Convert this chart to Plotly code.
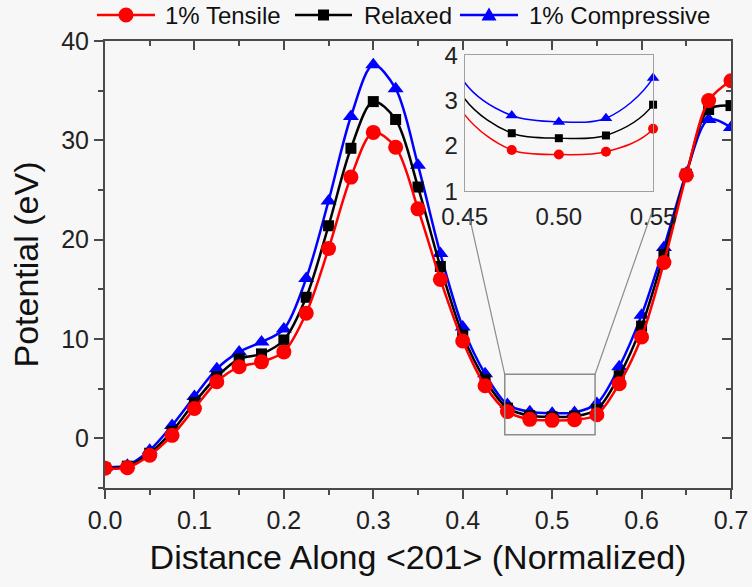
import plotly.graph_objects as go

# Position along <201>, normalized
distance = [0.0, 0.025, 0.05, 0.075, 0.1, 0.125, 0.15, 0.175, 0.2, 0.225,
            0.25, 0.275, 0.3, 0.325, 0.35, 0.375, 0.4, 0.425, 0.45, 0.475,
            0.5, 0.525, 0.55, 0.575, 0.6, 0.625, 0.65, 0.675, 0.7]

# Potential (eV) for each strain state
tensile = [-3.0, -2.95, -1.7, 0.3, 3.0, 5.7, 7.2, 7.7, 8.7, 12.6,
           19.1, 26.3, 30.8, 29.3, 23.1, 16.0, 9.8, 5.3, 2.69, 1.91,
           1.81, 1.87, 2.38, 5.5, 10.2, 17.7, 26.5, 34.0, 36.0]
relaxed = [-3.0, -2.8, -1.5, 0.7, 3.6, 6.2, 8.0, 8.5, 9.9, 14.2,
           21.4, 29.2, 33.9, 32.1, 25.3, 17.3, 10.4, 5.9, 3.04, 2.28,
           2.17, 2.23, 2.91, 6.3, 11.3, 18.5, 26.6, 33.1, 33.5]
compressive = [-2.9, -2.7, -1.2, 1.3, 4.2, 7.0, 8.7, 9.7, 11.0, 16.1,
               23.9, 32.4, 37.6, 35.2, 27.5, 18.6, 11.2, 6.5, 3.40, 2.67,
               2.53, 2.61, 3.50, 7.2, 12.4, 19.2, 26.7, 32.1, 31.3]

series_names = ["1% Tensile", "Relaxed", "1% Compressive"]
x_ticks = [0.0, 0.1, 0.2, 0.3, 0.4, 0.5, 0.6, 0.7]
y_ticks = [0, 10, 20, 30, 40]
inset_x_ticks = [0.45, 0.50, 0.55]
inset_y_ticks = [1, 2, 3, 4]

# zoomed window shown in the inset (main-axis data coordinates)
zoom_x = [0.447, 0.548]
zoom_y = [0.35, 6.45]

X_RANGE = [0.0, 0.7]
Y_RANGE = [-5, 40]
INSET_X = [0.45, 0.55]
INSET_Y = [1, 4]
INSET_DOM_X = [0.5745, 0.8755]
INSET_DOM_Y = [0.664, 0.968]

W, H = 752, 587
M_L, M_R, M_T, M_B = 105, 21, 41, 99
PLOT_W = W - M_L - M_R
PLOT_H = H - M_T - M_B

FONT = "Liberation Sans, Arial, sans-serif"
BG = "#f7f7f7"
AXIS = "#4a4a4a"

styles = [
    dict(color="#ff0000", symbol="circle", size=15, isize=10),
    dict(color="#000000", symbol="square", size=11, isize=8),
    dict(color="#0000ff", symbol="triangle-up", size=14, isize=11),
]
values = [tensile, relaxed, compressive]

fig = go.Figure()

# draw compressive first so tensile ends up on top
for idx in [2, 1, 0]:
    st = styles[idx]
    fig.add_trace(go.Scatter(
        x=distance, y=values[idx], name=series_names[idx],
        mode="lines+markers", showlegend=False,
        line=dict(color=st["color"], width=2.5, shape="spline", smoothing=0.9),
        marker=dict(color=st["color"], symbol=st["symbol"], size=st["size"]),
        xaxis="x", yaxis="y",
    ))

# inset: curves plus markers inside the zoom window
for idx in [2, 1, 0]:
    st = styles[idx]
    fig.add_trace(go.Scatter(
        x=distance, y=values[idx], mode="lines", showlegend=False,
        line=dict(color=st["color"], width=1.5, shape="spline", smoothing=0.9),
        xaxis="x2", yaxis="y2", hoverinfo="skip",
    ))
    sel = [i for i, d in enumerate(distance) if INSET_X[0] + 0.01 < d <= INSET_X[1] + 1e-9]
    fig.add_trace(go.Scatter(
        x=[distance[i] for i in sel], y=[values[idx][i] for i in sel],
        mode="markers", showlegend=False, cliponaxis=False,
        marker=dict(color=st["color"], symbol=st["symbol"], size=st["isize"]),
        xaxis="x2", yaxis="y2",
    ))

# mirrored frame with inward ticks on top and right
fig.add_trace(go.Scatter(x=[], y=[], xaxis="x3", yaxis="y3", showlegend=False))

tick_font = dict(family=FONT, size=25, color="#222222")
inset_font = dict(family=FONT, size=24, color="#222222")
title_font = dict(family=FONT, size=34, color="#111111")

fig.update_layout(
    width=W, height=H,
    margin=dict(l=M_L, r=M_R, t=M_T, b=M_B, autoexpand=False),
    paper_bgcolor=BG, plot_bgcolor=BG,
    font=dict(family=FONT, color="#222222"),
    showlegend=False,
    xaxis=dict(
        domain=[0, 1], range=X_RANGE, tickvals=x_ticks, tickformat=".1f",
        ticks="outside", ticklen=9, tickwidth=2, tickcolor=AXIS,
        minor=dict(ticks="outside", ticklen=5, tickwidth=2, dtick=0.05,
                   tickcolor=AXIS, showgrid=False),
        showline=True, linecolor=AXIS, linewidth=2, showgrid=False, zeroline=False,
        tickfont=tick_font, automargin=False,
        title=dict(text="Distance Along <201> (Normalized)", font=title_font, standoff=12),
        anchor="y",
    ),
    yaxis=dict(
        domain=[0, 1], range=Y_RANGE, tickvals=y_ticks,
        ticks="outside", ticklen=9, tickwidth=2, tickcolor=AXIS,
        minor=dict(ticks="outside", ticklen=5, tickwidth=2, dtick=5,
                   tickcolor=AXIS, showgrid=False),
        showline=True, linecolor=AXIS, linewidth=2, showgrid=False, zeroline=False,
        tickfont=tick_font, automargin=False,
        title=dict(text="Potential (eV)", font=title_font, standoff=12),
        anchor="x",
    ),
    xaxis3=dict(
        overlaying="x", side="top", range=X_RANGE, tickvals=x_ticks,
        ticks="inside", ticklen=9, tickwidth=2, tickcolor=AXIS,
        minor=dict(ticks="inside", ticklen=5, tickwidth=2, dtick=0.05,
                   tickcolor=AXIS, showgrid=False),
        showticklabels=False, showline=True, linecolor=AXIS, linewidth=2,
        showgrid=False, zeroline=False, anchor="y3", automargin=False,
    ),
    yaxis3=dict(
        overlaying="y", side="right", range=Y_RANGE, tickvals=y_ticks,
        ticks="inside", ticklen=9, tickwidth=2, tickcolor=AXIS,
        minor=dict(ticks="inside", ticklen=5, tickwidth=2, dtick=5,
                   tickcolor=AXIS, showgrid=False),
        showticklabels=False, showline=True, linecolor=AXIS, linewidth=2,
        showgrid=False, zeroline=False, anchor="x3", automargin=False,
    ),
    xaxis2=dict(
        domain=INSET_DOM_X, range=INSET_X, tickvals=inset_x_ticks,
        ticktext=[f"{v:.2f}" for v in inset_x_ticks], ticks="",
        showline=True, mirror=True, linecolor="#a0a0a0", linewidth=1,
        showgrid=False, zeroline=False, tickfont=inset_font, anchor="y2",
        ticklabelstandoff=4, automargin=False,
    ),
    yaxis2=dict(
        domain=INSET_DOM_Y, range=INSET_Y, tickvals=inset_y_ticks, ticks="",
        showline=True, mirror=True, linecolor="#a0a0a0", linewidth=1,
        showgrid=False, zeroline=False, tickfont=inset_font, anchor="x2",
        ticklabelstandoff=1, automargin=False,
    ),
)

# zoom window on the main axes
fig.add_shape(type="rect", xref="x", yref="y",
              x0=zoom_x[0], x1=zoom_x[1], y0=zoom_y[0], y1=zoom_y[1],
              line=dict(color="#8c8c8c", width=1.5))


def to_paper(xv, yv):
    return ((xv - X_RANGE[0]) / (X_RANGE[1] - X_RANGE[0]),
            (yv - Y_RANGE[0]) / (Y_RANGE[1] - Y_RANGE[0]))


# leader lines from the zoom window to the inset
below = INSET_DOM_Y[0] - 0.047
for corner_x, end_x in [(zoom_x[0], INSET_DOM_X[0] + 0.006),
                        (zoom_x[1], INSET_DOM_X[1] - 0.002)]:
    px, py = to_paper(corner_x, zoom_y[1])
    fig.add_shape(type="line", xref="paper", yref="paper",
                  x0=px, y0=py, x1=end_x, y1=below,
                  line=dict(color="#8c8c8c", width=1.2))

# legend row above the frame: long sample lines with a centred marker
def px_to_paper_x(p):
    return (p - M_L) / PLOT_W


LEG_Y = 1 + (M_T - 15) / PLOT_H
legend_items = [
    # (line start, line end, label start) in pixels
    (97, 155, 163),
    (295, 352, 362),
    (460, 518, 527),
]
marker_paths = [
    None,
    None,
    "M-7.5,-5.5 L7.5,-5.5 L0,7.5 Z",
]
for (l0, l1, t0), st, name, mpath in zip(legend_items, styles, series_names, marker_paths):
    fig.add_shape(type="line", xref="paper", yref="paper",
                  x0=px_to_paper_x(l0), x1=px_to_paper_x(l1), y0=LEG_Y, y1=LEG_Y,
                  line=dict(color=st["color"], width=2.5))
    cx = px_to_paper_x((l0 + l1) / 2)
    r = st["size"] / 2
    common = dict(xref="paper", yref="paper", xsizemode="pixel", ysizemode="pixel",
                  xanchor=cx, yanchor=LEG_Y, fillcolor=st["color"], line=dict(width=0))
    if st["symbol"] == "circle":
        fig.add_shape(type="circle", x0=-r, x1=r, y0=-r, y1=r, **common)
    elif st["symbol"] == "square":
        fig.add_shape(type="rect", x0=-r, x1=r, y0=-r, y1=r, **common)
    else:
        fig.add_shape(type="path", path=mpath, **common)
    fig.add_annotation(text=name, xref="paper", yref="paper",
                       x=px_to_paper_x(t0), y=LEG_Y, xanchor="left", yanchor="middle",
                       showarrow=False, font=dict(family=FONT, size=24, color="#111111"))

fig.write_html("out.html")
